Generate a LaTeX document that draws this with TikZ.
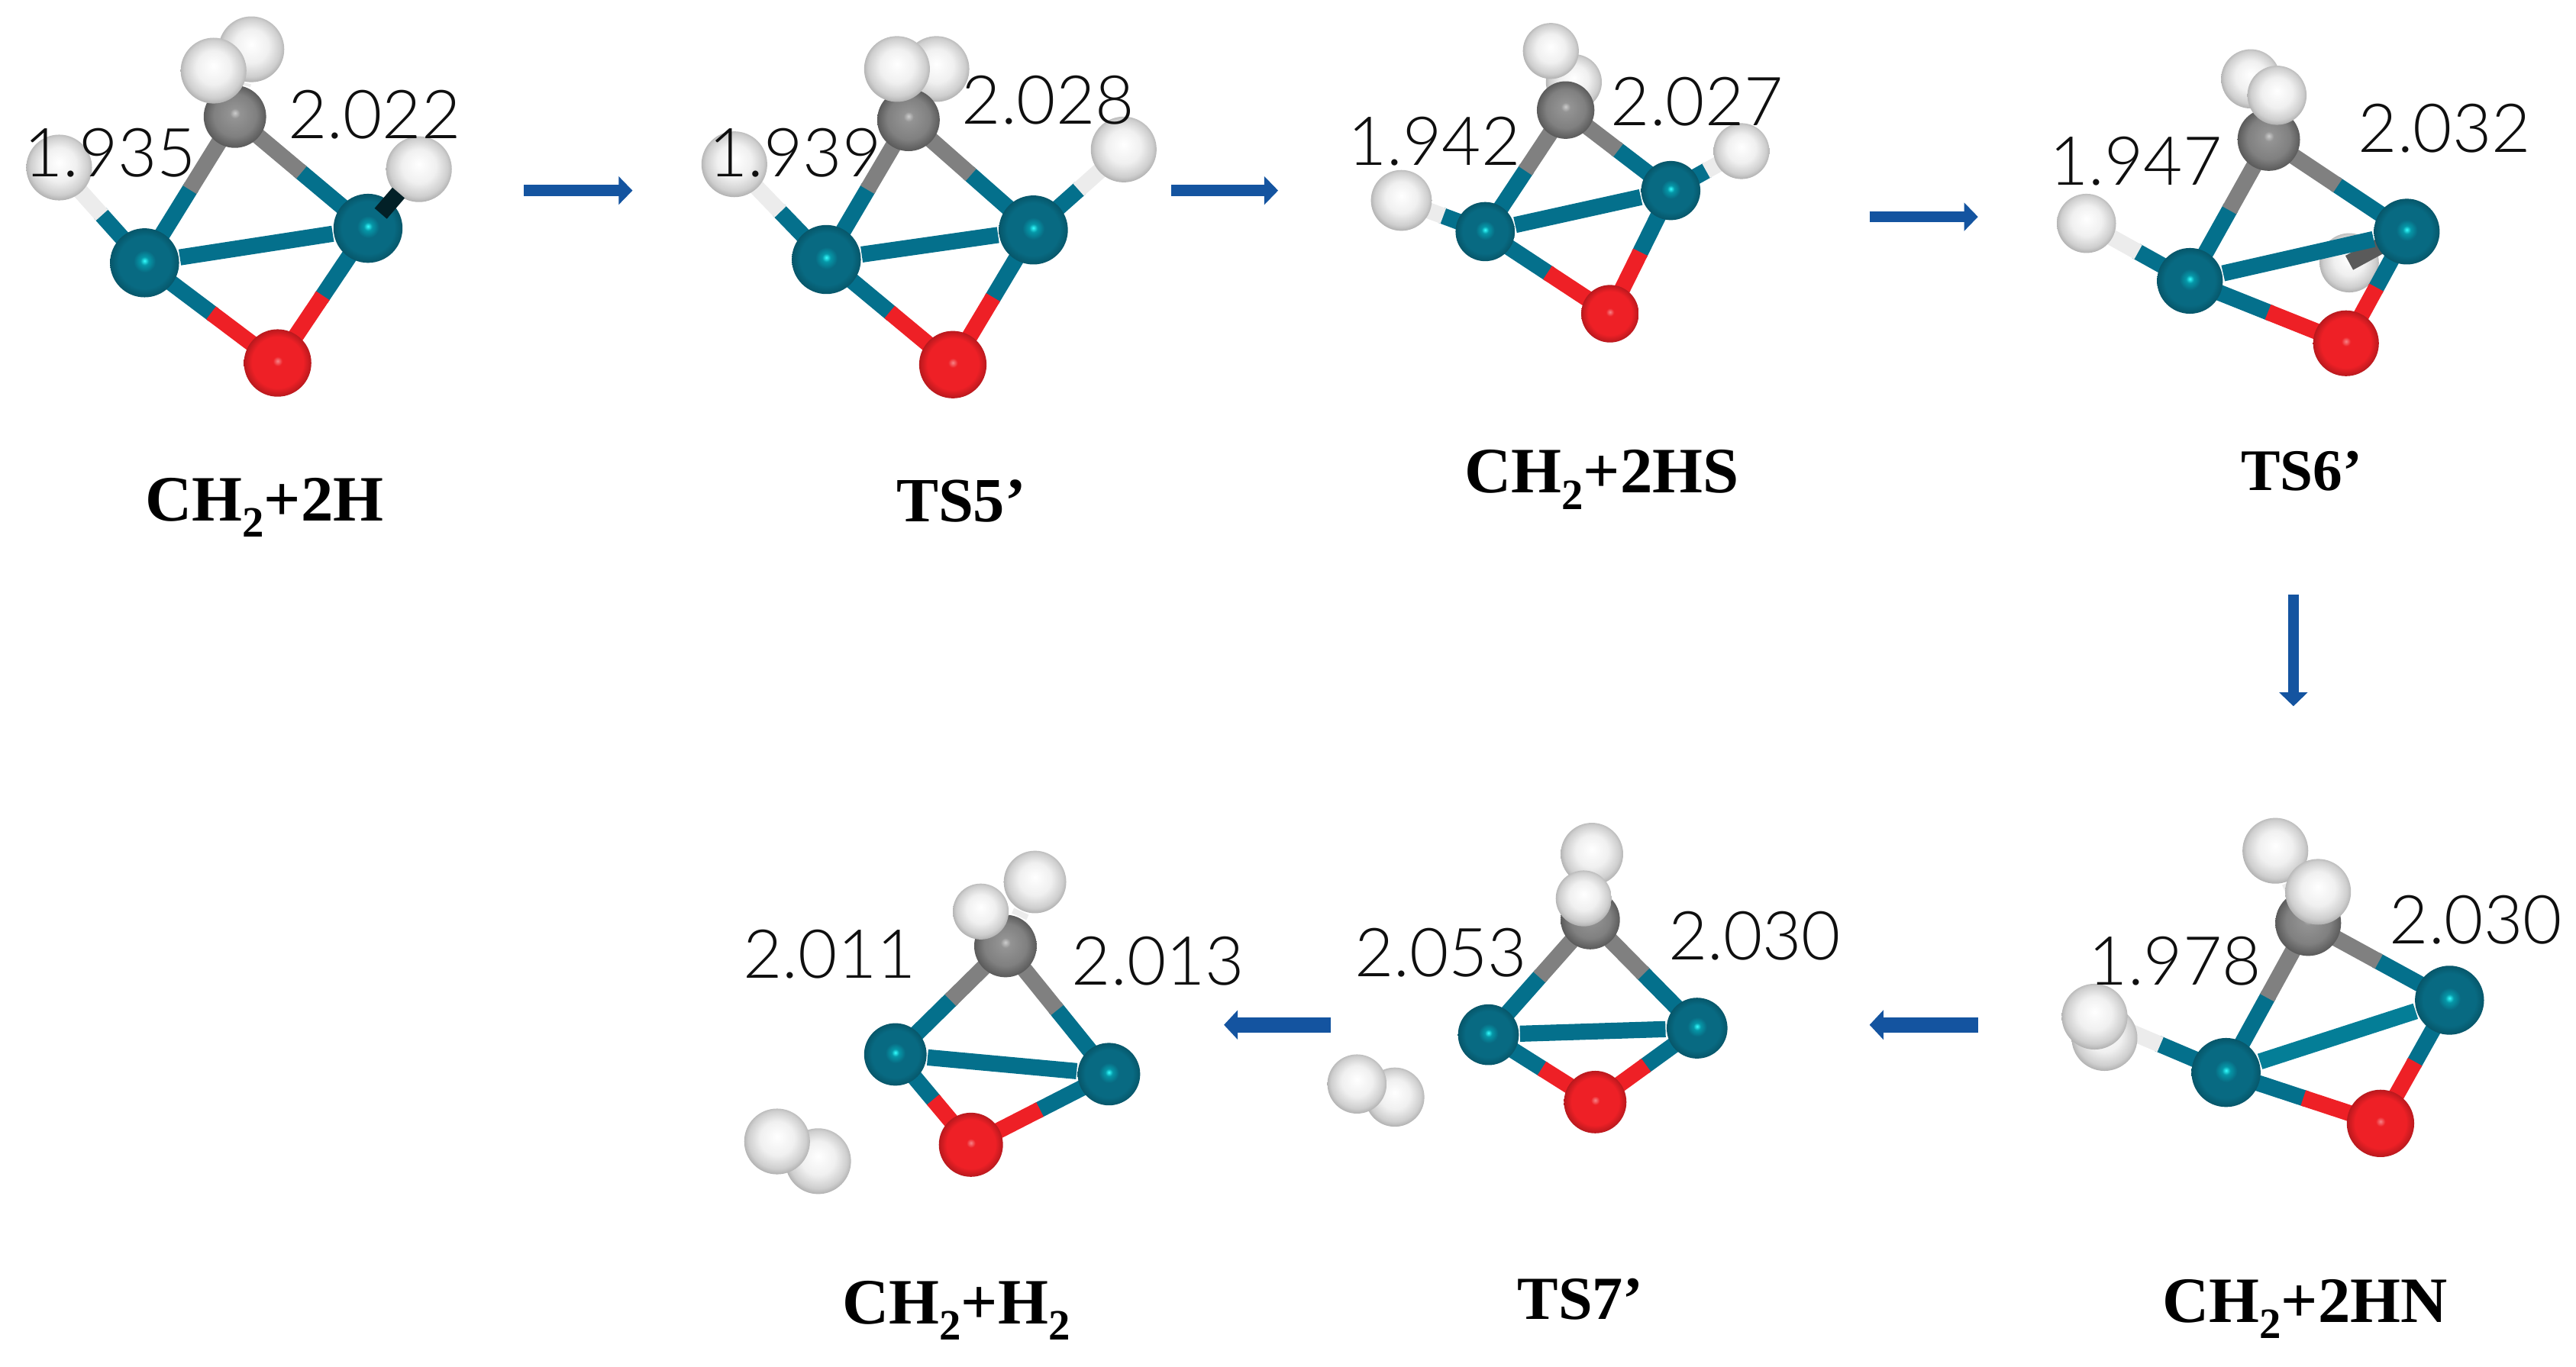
\documentclass[tikz,border=0pt]{standalone}
\usepackage{fontspec}
\setmainfont{Liberation Serif}
\newfontfamily\distfont{Lato Light}
\usetikzlibrary{arrows.meta,backgrounds,calc}

\definecolor{pdcol}{RGB}{8,106,130}
\definecolor{pdbond}{RGB}{4,112,140}
\definecolor{ocol}{RGB}{238,32,38}
\definecolor{ccol}{RGB}{128,128,128}
\definecolor{hcol}{RGB}{240,240,240}
\definecolor{arrowcol}{RGB}{20,84,160}
\definecolor{distcol}{RGB}{15,15,15}

\pgfdeclareradialshading{pdball}{\pgfpoint{0bp}{1.5bp}}{color(0bp)=(cyan!80!white); color(3bp)=(pdcol!70!cyan); color(8bp)=(pdcol); color(19bp)=(pdcol); color(27bp)=(pdcol!75!black)}
\pgfdeclareradialshading{oball}{\pgfpoint{0bp}{1.5bp}}{color(0bp)=(ocol!55!white); color(3.5bp)=(ocol); color(19bp)=(ocol); color(27bp)=(ocol!70!black)}
\pgfdeclareradialshading{cball}{\pgfpoint{0bp}{3bp}}{color(0bp)=(white!60!ccol); color(4bp)=(ccol!85!white); color(17bp)=(ccol); color(28bp)=(ccol!60!black)}
\pgfdeclareradialshading{hball}{\pgfpoint{0bp}{4bp}}{color(0bp)=(white); color(13bp)=(hcol); color(22bp)=(hcol!86!black); color(28bp)=(hcol!66!black); color(32bp)=(hcol!50!black)}

\tikzset{
    atomPd/.style={circle, inner sep=0pt, minimum size=#1, shade, shading=pdball},
    atomPd/.default=.42cm,
    atomO/.style={circle, inner sep=0pt, minimum size=#1, shade, shading=oball},
    atomO/.default=.41cm,
    atomC/.style={circle, inner sep=0pt, minimum size=#1, shade, shading=cball},
    atomC/.default=.38cm,
    atomH/.style={circle, inner sep=0pt, minimum size=#1, shade, shading=hball},
    atomH/.default=.40cm,
    bondline/.style={line width=2.8pt},
    distlabel/.style={font=\distfont\fontsize{11.7}{13}\selectfont, text=distcol, inner sep=0pt},
    statename/.style={font=\fontsize{#1}{12}\selectfont\bfseries, inner sep=0pt},
    statename/.default=11.2,
    flow/.style={draw=arrowcol, line width=1.9pt, -{Triangle[width=4.8pt,length=2.4pt]}},
    flowthick/.style={draw=arrowcol, line width=2.6pt, -{Triangle[width=5pt,length=2.4pt]}}
}

% two coloured bond, first atom, second atom, their colours
\newcommand{\halfbond}[4]{
    \draw[bondline,#3] (#1.center) -- ($(#1.center)!.52!(#2.center)$);
    \draw[bondline,#4] ($(#1.center)!.5!(#2.center)$) -- (#2.center);
}
\newcommand{\subtwo}{\raisebox{-.55ex}{\fontsize{7.5}{8}\selectfont 2}}

\begin{document}
\begin{tikzpicture}[x=.01cm, y=-.01cm]
    \useasboundingbox (0,0) rectangle (1568,832);

    % CH2+2H
    \node (aHl) [atomH] at (36,102) {};
    \node (aHb) [atomH] at (153,30) {};
    \node (aC) [atomC] at (143,71) {};
    \node (aHf) [atomH] at (130,43) {};
    \node (aHr) [atomH] at (255,103) {};
    \node (aPdl) [atomPd] at (88,160) {};
    \node (aPdr) [atomPd] at (224,139) {};
    \node (aO) [atomO] at (169,221) {};
    \draw[bondline,black!70!pdcol] ($(aPdr.center)!.25!(aHr.center)$) -- ($(aPdr.center)!.6!(aHr.center)$);

    % TS5'
    \node (bHl) [atomH] at (447,100) {};
    \node (bHb) [atomH] at (570,42) {};
    \node (bC) [atomC] at (553,73) {};
    \node (bHf) [atomH] at (546,42) {};
    \node (bHr) [atomH] at (684,91) {};
    \node (bPdl) [atomPd] at (503,158) {};
    \node (bPdr) [atomPd] at (629,140) {};
    \node (bO) [atomO] at (580,222) {};

    % CH2+2HS
    \node (cHl) [atomH=.37cm] at (853,122) {};
    \node (cHb) [atomH=.34cm] at (958,50) {};
    \node (cC) [atomC=.35cm] at (953,67) {};
    \node (cHf) [atomH=.34cm] at (944,31) {};
    \node (cHr) [atomH=.34cm] at (1060,92) {};
    \node (cPdl) [atomPd=.36cm] at (904,141) {};
    \node (cPdr) [atomPd=.36cm] at (1017,116) {};
    \node (cO) [atomO=.35cm] at (980,191) {};

    % TS6'
    \node (dHl) [atomH=.36cm] at (1270,136) {};
    \node (dHt) [atomH=.36cm] at (1370,48) {};
    \node (dC) [atomC=.38cm] at (1381,85) {};
    \node (dHf) [atomH=.36cm] at (1386,58) {};
    \node (dPdl) [atomPd=.40cm] at (1333,171) {};
    \node (dPdr) [atomPd=.40cm] at (1465,141) {};
    \node (dO) [atomO=.40cm] at (1428,209) {};

    % CH2+2HN
    \node (eHb) [atomH] at (1281,632) {};
    \node (eHl) [atomH] at (1275,619) {};
    \node (eHt) [atomH] at (1385,518) {};
    \node (eC) [atomC=.40cm] at (1405,562) {};
    \node (eHf) [atomH] at (1411,543) {};
    \node (ePdl) [atomPd] at (1355,653) {};
    \node (ePdr) [atomPd] at (1491,609) {};
    \node (eO) [atomO] at (1449,684) {};

    % TS7'
    \node (fHb) [atomH=.38cm] at (969,520) {};
    \node (fC) [atomC=.36cm] at (968,560) {};
    \node (fHf) [atomH=.34cm] at (964,547) {};
    \node (fPdl) [atomPd=.37cm] at (906,630) {};
    \node (fPdr) [atomPd=.37cm] at (1033,626) {};
    \node (fO) [atomO=.38cm] at (971,671) {};
    \node (fHa) [atomH=.36cm] at (849,668) {};
    \node (fHc) [atomH=.36cm] at (826,660) {};

    % CH2+H2
    \node (gHb) [atomH=.38cm] at (630,537) {};
    \node (gC) [atomC=.38cm] at (612,576) {};
    \node (gHf) [atomH=.34cm] at (597,555) {};
    \node (gPdl) [atomPd=.38cm] at (545,642) {};
    \node (gPdr) [atomPd=.38cm] at (675,654) {};
    \node (gO) [atomO=.39cm] at (591,697) {};
    \node (gHa) [atomH=.40cm] at (498,707) {};
    \node (gHc) [atomH=.40cm] at (473,695) {};

    \begin{scope}[on background layer]
        \node (dHb) [atomH=.36cm] at (1430,160) {};

        \halfbond{aPdl}{aHl}{pdbond}{white!85!gray}
        \halfbond{aPdl}{aC}{pdbond}{ccol}
        \halfbond{aPdr}{aC}{pdbond}{ccol}
        \halfbond{aPdl}{aO}{pdbond}{ocol}
        \halfbond{aPdr}{aO}{pdbond}{ocol}
        \draw[bondline,pdbond] (aPdl) -- (aPdr);
        \draw[bondline,white!85!gray] (aC) -- (aHb);

        \halfbond{bPdl}{bHl}{pdbond}{white!85!gray}
        \halfbond{bPdr}{bHr}{pdbond}{white!85!gray}
        \halfbond{bPdl}{bC}{pdbond}{ccol}
        \halfbond{bPdr}{bC}{pdbond}{ccol}
        \halfbond{bPdl}{bO}{pdbond}{ocol}
        \halfbond{bPdr}{bO}{pdbond}{ocol}
        \draw[bondline,pdbond] (bPdl) -- (bPdr);

        \halfbond{cPdl}{cHl}{pdbond}{white!85!gray}
        \halfbond{cPdr}{cHr}{pdbond}{white!85!gray}
        \halfbond{cPdl}{cC}{pdbond}{ccol}
        \halfbond{cPdr}{cC}{pdbond}{ccol}
        \halfbond{cPdl}{cO}{pdbond}{ocol}
        \halfbond{cPdr}{cO}{pdbond}{ocol}
        \draw[bondline,pdbond] (cPdl) -- (cPdr);
        \draw[bondline,white!85!gray] (cC) -- (cHf);

        \draw[bondline,ccol!70!black] (dPdr.center) -- (dHb.center);
        \halfbond{dPdl}{dHl}{pdbond}{white!85!gray}
        \halfbond{dPdl}{dC}{pdbond}{ccol}
        \halfbond{dPdr}{dC}{pdbond}{ccol}
        \halfbond{dPdl}{dO}{pdbond}{ocol}
        \halfbond{dPdr}{dO}{pdbond}{ocol}
        \draw[bondline,pdbond] (dPdl) -- (dPdr);

        \halfbond{ePdl}{eHl}{pdbond}{white!85!gray}
        \halfbond{ePdl}{eC}{pdbond}{ccol}
        \halfbond{ePdr}{eC}{pdbond}{ccol}
        \halfbond{ePdl}{eO}{pdbond}{ocol}
        \halfbond{ePdr}{eO}{pdbond}{ocol}
        \draw[bondline,pdbond!90!cyan] (ePdl) -- (ePdr);
        \draw[bondline,white!85!gray] (eC) -- (eHt);

        \halfbond{fPdl}{fC}{pdbond}{ccol}
        \halfbond{fPdr}{fC}{pdbond}{ccol}
        \halfbond{fPdl}{fO}{pdbond}{ocol}
        \halfbond{fPdr}{fO}{pdbond}{ocol}
        \draw[bondline,pdbond] (fPdl) -- (fPdr);

        \halfbond{gPdl}{gC}{pdbond}{ccol}
        \halfbond{gPdr}{gC}{pdbond}{ccol}
        \halfbond{gPdl}{gO}{pdbond}{ocol}
        \halfbond{gPdr}{gO}{pdbond}{ocol}
        \draw[bondline,pdbond] (gPdl) -- (gPdr);
        \draw[bondline,white!85!gray] (gC) -- (gHb);
    \end{scope}

    % bond lengths
    \node (ad1) [distlabel] at (67,93) {1.935};
    \node (ad2) [distlabel] at (228,70) {2.022};
    \node (bd1) [distlabel] at (484,93) {1.939};
    \node (bd2) [distlabel] at (638,61) {2.028};
    \node (cd1) [distlabel] at (873,86) {1.942};
    \node (cd2) [distlabel] at (1033,62) {2.027};
    \node (dd1) [distlabel] at (1300,98) {1.947};
    \node (dd2) [distlabel] at (1488,78) {2.032};
    \node (ed1) [distlabel] at (1324,585) {1.978};
    \node (ed2) [distlabel] at (1507,560) {2.030};
    \node (fd1) [distlabel] at (877,580) {2.053};
    \node (fd2) [distlabel] at (1068,570) {2.030};
    \node (gd1) [distlabel] at (505,581) {2.011};
    \node (gd2) [distlabel] at (705,585) {2.013};

    % state names
    \node (aname) [statename] at (161,309) {CH\subtwo+2H};
    \node (bname) [statename=10.9] at (585,305) {TS5’};
    \node (cname) [statename] at (975,292) {CH\subtwo+2HS};
    \node (dname) [statename=10.2] at (1401,287) {TS6’};
    \node (ename) [statename] at (1403,797) {CH\subtwo+2HN};
    \node (fname) [statename=10.6] at (962,791) {TS7’};
    \node (gname) [statename] at (582,798) {CH\subtwo+H\subtwo};

    % arrows
    \coordinate (ab1) at (319,116);
    \coordinate (ab2) at (385,116);
    \coordinate (bc1) at (713,116);
    \coordinate (bc2) at (778,116);
    \coordinate (cd1c) at (1138,132);
    \coordinate (cd2c) at (1204,132);
    \coordinate (de1) at (1396,362);
    \coordinate (de2) at (1396,430);
    \coordinate (ef1) at (1204,624);
    \coordinate (ef2) at (1138,624);
    \coordinate (fg1) at (810,624);
    \coordinate (fg2) at (745,624);
    \draw[flow] (ab1) -- (ab2);
    \draw[flow] (bc1) -- (bc2);
    \draw[flow] (cd1c) -- (cd2c);
    \draw[flow] (de1) -- (de2);
    \draw[flowthick] (ef1) -- (ef2);
    \draw[flowthick] (fg1) -- (fg2);
\end{tikzpicture}
\end{document}
